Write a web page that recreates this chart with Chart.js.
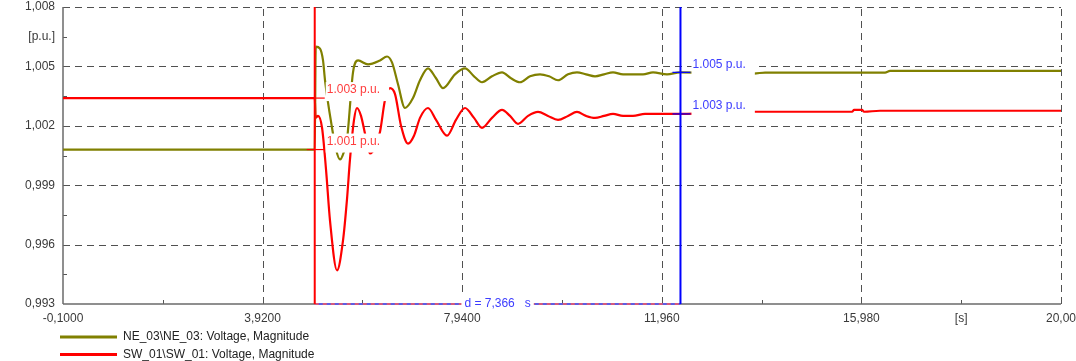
<!DOCTYPE html>
<html>
<head>
<meta charset="utf-8">
<script src="https://cdn.jsdelivr.net/npm/chart.js@4.4.0/dist/chart.umd.min.js"></script>
<style>
  html, body { margin: 0; padding: 0; background: #fff; overflow: hidden; }
  #wrap { width: 1076px; height: 361px; position: relative; }
</style>
</head>
<body>
<div id="wrap"><canvas id="c" width="1076" height="361"></canvas></div>
<script>
// NE_03 voltage magnitude [p.u.] over time [s]
const tNE = [-0.1, 4.97, 4.99, 5.076, 5.137, 5.177, 5.318, 5.398, 5.479, 5.56, 5.62, 5.741, 5.842, 6.043, 6.285, 6.426, 6.526, 6.647, 6.788, 6.949, 7.09, 7.251, 7.413, 7.554, 7.795, 7.997, 8.178, 8.339, 8.54, 8.742, 8.923, 9.104, 9.306, 9.507, 9.689, 9.87, 10.071, 10.252, 10.434, 10.615, 10.796, 10.978, 11.179, 11.38, 11.582, 11.783, 12.065, 12.327, 13.817, 14.039, 16.456, 16.557, 20.0];
const vNE = [1.0008, 1.0008, 1.0060, 1.0059, 1.0053, 1.0043, 1.0019, 1.0008, 1.0003, 1.0007, 1.0013, 1.0047, 1.0053, 1.0051, 1.0053, 1.0055, 1.0052, 1.0041, 1.0029, 1.0034, 1.0043, 1.0049, 1.0044, 1.0039, 1.0046, 1.0049, 1.0045, 1.0042, 1.0045, 1.0047, 1.0044, 1.0042, 1.0045, 1.0046, 1.0045, 1.0043, 1.0046, 1.0047, 1.0046, 1.0045, 1.0046, 1.0047, 1.0046, 1.0046, 1.0046, 1.0047, 1.0046, 1.0047, 1.00464, 1.00469, 1.00469, 1.00477, 1.00477];

// SW_01 voltage magnitude [p.u.] over time [s]
const tSW = [-0.1, 4.97, 4.99, 5.036, 5.117, 5.197, 5.278, 5.419, 5.539, 5.62, 5.68, 5.761, 5.821, 5.902, 5.983, 6.083, 6.184, 6.285, 6.385, 6.486, 6.587, 6.708, 6.849, 6.969, 7.09, 7.251, 7.413, 7.634, 7.815, 7.997, 8.178, 8.339, 8.54, 8.742, 8.903, 9.064, 9.266, 9.467, 9.668, 9.87, 10.071, 10.252, 10.434, 10.615, 10.796, 10.978, 11.179, 11.38, 11.622, 11.864, 12.126, 12.327, 13.817, 15.792, 15.832, 15.993, 16.033, 16.355, 20.0];
const vSW = [1.0034, 1.0034, 1.0024, 1.0025, 1.0019, 0.9998, 0.9972, 0.9947, 0.9962, 0.9983, 1.0003, 1.0023, 1.0029, 1.0025, 1.0016, 1.0006, 1.0009, 1.0017, 1.0033, 1.0039, 1.0036, 1.0020, 1.0011, 1.0015, 1.0024, 1.0029, 1.0023, 1.0015, 1.0023, 1.0029, 1.0024, 1.0019, 1.0024, 1.0028, 1.0025, 1.0021, 1.0025, 1.0027, 1.0025, 1.0023, 1.0025, 1.0027, 1.0025, 1.0024, 1.0025, 1.0026, 1.0025, 1.0025, 1.0026, 1.0026, 1.0026, 1.0026, 1.00271, 1.00271, 1.0028, 1.0028, 1.00271, 1.00276, 1.00276];

const seriesNames = ['NE_03\\NE_03: Voltage, Magnitude', 'SW_01\\SW_01: Voltage, Magnitude'];

// Axis ticks
const xMajor = [-0.1, 3.92, 7.94, 11.96, 15.98, 20.0];
const xMajorLabels = ['-0,1000', '3,9200', '7,9400', '11,960', '15,980', '20,00'];
const xMinor = [1.91, 5.93, 9.95, 13.97, 17.99];
const xMinorLabels = ['', '', '', '', '[s]'];
const yMajor = [0.993, 0.996, 0.999, 1.002, 1.005, 1.008];
const yMajorLabels = ['0,993', '0,996', '0,999', '1,002', '1,005', '1,008'];
const yMinor = [0.9945, 0.9975, 1.0005, 1.0035, 1.0065];
const yMinorLabels = ['', '', '', '', '[p.u.]'];

// Measurement cursors [s]
const cursorTimes = [4.97, 12.336];

const FONT = '"Liberation Sans", Arial, sans-serif';
const OLIVE = '#808000';
const RED = '#ff0000';
const CURSOR_LINE = ['#ff0000', '#0000ff'];
const CURSOR_TEXT = ['#ff3c3c', '#3c3cff'];

function toPoints(ts, vs) { return ts.map((t, i) => ({ x: t, y: vs[i] })); }

function valueAt(ts, vs, t) {
  for (let i = 1; i < ts.length; i++) {
    if (t <= ts[i]) {
      const f = (t - ts[i - 1]) / (ts[i] - ts[i - 1]);
      return vs[i - 1] + f * (vs[i] - vs[i - 1]);
    }
  }
  return vs[vs.length - 1];
}

function labelMap(vals, labels) {
  const m = new Map();
  vals.forEach((v, i) => m.set(v.toFixed(5), labels[i]));
  return m;
}
const xLabelMap = labelMap(xMajor.concat(xMinor), xMajorLabels.concat(xMinorLabels));
const yLabelMap = labelMap(yMajor.concat(yMinor), yMajorLabels.concat(yMinorLabels));

function seg(ctx, x1, y1, x2, y2) {
  ctx.beginPath(); ctx.moveTo(x1, y1); ctx.lineTo(x2, y2); ctx.stroke();
}

// Dashed grid, inward tick marks and the two solid axis lines
const scopeFrame = {
  id: 'scopeFrame',
  beforeDatasetsDraw(chart) {
    const { ctx, chartArea: a, scales: { x, y } } = chart;
    ctx.save();
    ctx.lineWidth = 1;
    ctx.strokeStyle = '#505050';
    ctx.setLineDash([7, 5]);
    xMajor.slice(1).forEach(v => {
      const px = Math.round(x.getPixelForValue(v)) + 0.5;
      seg(ctx, px, a.bottom, px, a.top);
    });
    yMajor.slice(1).forEach(v => {
      const py = Math.round(y.getPixelForValue(v)) + 0.5;
      seg(ctx, a.left, py, a.right, py);
    });
    ctx.setLineDash([]);
    ctx.strokeStyle = '#555';
    xMajor.slice(1).forEach(v => {
      const px = Math.round(x.getPixelForValue(v)) + 0.5;
      seg(ctx, px, a.bottom, px, a.bottom - 6);
    });
    xMinor.forEach(v => {
      const px = Math.round(x.getPixelForValue(v)) + 0.5;
      seg(ctx, px, a.bottom, px, a.bottom - 4);
    });
    yMajor.slice(1).forEach(v => {
      const py = Math.round(y.getPixelForValue(v)) + 0.5;
      seg(ctx, a.left, py, a.left + 6, py);
    });
    yMinor.forEach(v => {
      const py = Math.round(y.getPixelForValue(v)) + 0.5;
      seg(ctx, a.left, py, a.left + 4, py);
    });
    ctx.strokeStyle = '#6a6a6a';
    ctx.lineWidth = 1.5;
    seg(ctx, a.left, a.top, a.left, a.bottom);
    seg(ctx, a.left, a.bottom, a.right, a.bottom);
    ctx.restore();
  },
  afterDatasetsDraw(chart) {
    const { ctx, chartArea: a, scales: { x, y } } = chart;
    const series = [[tNE, vNE], [tSW, vSW]];
    ctx.save();
    ctx.font = '12px ' + FONT;
    ctx.textBaseline = 'middle';

    // Span between the two cursors along the time axis
    const p0 = x.getPixelForValue(cursorTimes[0]);
    const p1 = x.getPixelForValue(cursorTimes[1]);
    ctx.lineWidth = 1.5;
    ctx.strokeStyle = '#4d4dff';
    seg(ctx, p0, a.bottom, p1, a.bottom);
    ctx.strokeStyle = '#ff5a5a';
    ctx.setLineDash([4, 4]);
    seg(ctx, p0, a.bottom, p1, a.bottom);
    ctx.setLineDash([]);
    const dText = 'd = ' + (cursorTimes[1] - cursorTimes[0]).toFixed(3).replace('.', ',') + '   s';
    const dw = ctx.measureText(dText).width;
    const dx = (p0 + p1) / 2 - dw / 2;
    ctx.fillStyle = '#fff';
    ctx.fillRect(dx - 3, a.bottom - 7, dw + 6, 14);
    ctx.fillStyle = CURSOR_TEXT[1];
    ctx.textAlign = 'left';
    ctx.fillText(dText, dx, a.bottom);

    // Cursor lines with the value read-outs of both curves
    cursorTimes.forEach((t, ci) => {
      const px = x.getPixelForValue(t);
      ctx.strokeStyle = CURSOR_LINE[ci];
      ctx.lineWidth = 2;
      seg(ctx, px, a.top, px, a.bottom);
      series.forEach(([ts, vs]) => {
        const v = valueAt(ts, vs, t);
        const py = y.getPixelForValue(v);
        ctx.lineWidth = 1.2;
        ctx.strokeStyle = CURSOR_LINE[ci];
        seg(ctx, px - 8, py, px + 10, py);
        const txt = v.toFixed(3) + ' p.u.';
        const w = ctx.measureText(txt).width;
        const cy = py - 8;
        ctx.fillStyle = '#fff';
        ctx.fillRect(px + 11, cy - 8, w + 10, 19);
        ctx.fillStyle = CURSOR_TEXT[ci];
        ctx.fillText(txt, px + 12, cy);
      });
    });
    ctx.restore();
  },
  afterDraw(chart) {
    const { ctx, chartArea: a } = chart;
    ctx.save();
    ctx.font = '12px ' + FONT;
    ctx.textBaseline = 'middle';
    ctx.textAlign = 'left';
    chart.data.datasets.forEach((ds, i) => {
      const ly = a.bottom + 33 + i * 17.5;
      ctx.strokeStyle = ds.borderColor;
      ctx.lineWidth = 3;
      seg(ctx, 60, ly, 117, ly);
      ctx.fillStyle = '#222';
      ctx.fillText(ds.label, 123, ly);
    });
    ctx.restore();
  }
};

new Chart(document.getElementById('c'), {
  type: 'line',
  data: {
    datasets: [
      { label: seriesNames[0], data: toPoints(tNE, vNE), borderColor: OLIVE, borderWidth: 2.2, pointRadius: 0, cubicInterpolationMode: 'monotone', fill: false },
      { label: seriesNames[1], data: toPoints(tSW, vSW), borderColor: RED, borderWidth: 2.2, pointRadius: 0, cubicInterpolationMode: 'monotone', fill: false }
    ]
  },
  options: {
    responsive: false,
    animation: false,
    devicePixelRatio: 1,
    layout: { padding: { top: 7, right: 15, bottom: 27, left: 0 } },
    plugins: { legend: { display: false }, tooltip: { enabled: false } },
    scales: {
      x: {
        type: 'linear',
        min: -0.1, max: 20.0,
        grid: { display: false, drawTicks: false },
        border: { display: false },
        afterBuildTicks: s => { s.ticks = xMajor.concat(xMinor).map(v => ({ value: v })); },
        afterFit: s => { s.height = 30; s.paddingLeft = 0; s.paddingRight = 0; },
        ticks: {
          autoSkip: false, maxRotation: 0, padding: 7,
          color: '#3a3a3a', font: { family: FONT, size: 12 },
          callback: v => xLabelMap.get(Number(v).toFixed(5)) ?? ''
        }
      },
      y: {
        type: 'linear',
        min: 0.993, max: 1.008,
        grid: { display: false, drawTicks: false },
        border: { display: false },
        afterBuildTicks: s => { s.ticks = yMajor.concat(yMinor).map(v => ({ value: v })); },
        afterFit: s => { s.width = 63; s.paddingTop = 0; s.paddingBottom = 0; },
        ticks: {
          autoSkip: false, padding: 8,
          color: '#3a3a3a', font: { family: FONT, size: 12 },
          callback: v => yLabelMap.get(Number(v).toFixed(5)) ?? ''
        }
      }
    }
  },
  plugins: [scopeFrame]
});
</script>
</body>
</html>
